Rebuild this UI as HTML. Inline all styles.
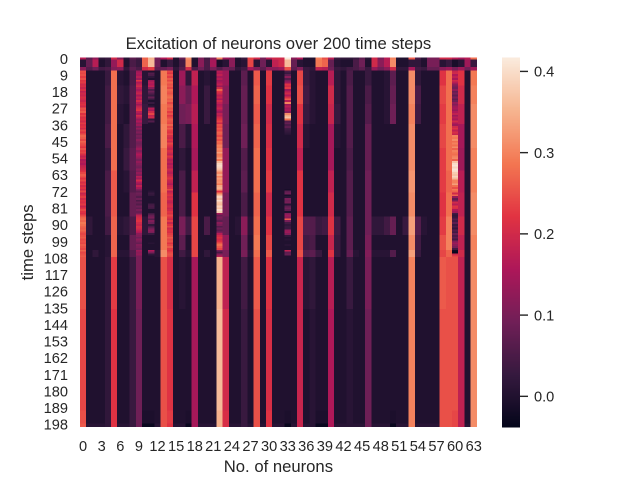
<!DOCTYPE html>
<html lang="en">
<head>
<meta charset="utf-8">
<title>Excitation of neurons over 200 time steps</title>
<style>
html,body{margin:0;padding:0;background:#fff}
#chart{display:block;width:640px;height:480px}
text{font-family:"Liberation Sans",Arial,sans-serif;fill:#262626}
</style>
</head>
<body>
<svg id="chart" xmlns="http://www.w3.org/2000/svg" width="640" height="480" viewBox="0 0 640 480">
  <rect x="0" y="0" width="640" height="480" fill="#ffffff"/>
  <text x="278.4" y="49" font-size="16.67" text-anchor="middle">Excitation of neurons over 200 time steps</text>
  <g id="cells" shape-rendering="crispEdges"></g>
  <g id="xticks"></g>
  <g id="yticks"></g>
  <text x="278.4" y="472" font-size="16.67" text-anchor="middle">No. of neurons</text>
  <text transform="translate(33 242.4) rotate(-90)" font-size="16.67" text-anchor="middle">time steps</text>
  <g id="colorbar" shape-rendering="crispEdges"></g>
  <g id="cbarticks"></g>
</svg>
<script>
// Number of neurons and time steps
const neuronCount = 64;
const timeStepCount = 200;
// Tick labels
const xTickLabels = [0,3,6,9,12,15,18,21,24,27,30,33,36,39,42,45,48,51,54,57,60,63];
const yTickLabels = [0,9,18,27,36,45,54,63,72,81,90,99,108,117,126,135,144,153,162,171,180,189,198];
const colorbarTicks = [0,0.1,0.2,0.3,0.4];
// Colour range
const valueMin = -0.038;
const valueMax = 0.417;
// First time step of each band of bandValues
const bandStartSteps = [0,1,5,7,15,25,36,49,61,73,86,96,104,108,136,191,198];
// Excitation of each neuron within each band
const bandValues = [
[.17,.07,.13,.02,.03,.2,.12,.01,.07,.05,.27,.35,.1,.16,.2,0,.08,.32,0,.1,.04,.12,.3,.14,.12,0,.03,.24,.2,.1,.17,.2,.2,.42,.12,.16,0,0,.3,.25,.17,.03,.02,.02,.03,.07,.01,.2,.1,.17,.3,0,0,.26,.05,.01,.1,.1,.2,.2,.17,.15,.17,.28],
[.01,.08,.17,0,.02,.13,.2,0,.05,.03,.27,.36,.09,0,.03,0,.04,.3,0,.12,.05,.15,-.01,.01,.12,0,.01,.24,.01,.09,.01,.18,.2,.36,.08,.01,0,0,.29,.27,.08,.01,0,0,.05,.09,0,.2,.12,.17,.31,0,0,.02,.02,0,.1,.1,.01,.03,-.01,.01,.14,.03],
[.12,.06,.09,.04,.05,.11,.12,.02,.07,.05,.2,.23,.07,.08,.1,.02,.06,.2,.05,.09,.05,.1,.06,.09,.08,.02,.04,.15,.11,.07,.12,.12,.14,.25,.07,.11,.03,.02,.18,.17,.09,.03,.02,.04,.05,.07,.03,.13,.09,.12,.2,.02,.02,.15,.04,.03,.08,.08,.12,.14,.1,.14,.09,.14],
[.25,0,0,0,.03,.28,.01,0,.05,.14,.01,.1,0,.29,.25,0,.14,.02,.18,0,.01,0,.17,.14,0,0,.07,0,.26,0,.23,0,0,.1,0,.24,.03,.01,0,0,.17,.02,0,.05,0,0,.03,0,0,.01,.07,0,0,.31,.02,0,0,0,.22,.28,.18,.22,0,.29],
[.2,0,0,0,.04,.28,.02,.01,.06,.17,.02,.05,0,.3,.26,0,.12,.08,.16,0,.03,0,.2,.12,0,0,.08,0,.27,0,.22,0,0,.15,0,.25,.04,.01,0,0,.2,.02,0,.06,0,0,.05,0,0,.01,.08,0,0,.31,.05,0,0,0,.24,.28,.1,.2,0,.3],
[.22,0,0,0,.04,.28,.01,0,.06,.13,.03,.15,0,.29,.26,0,.09,.1,.17,0,.03,0,.18,.1,0,0,.08,0,.26,0,.2,0,0,.2,0,.22,.03,.01,0,0,.19,.03,0,.06,0,0,.06,0,0,.01,.09,0,0,.3,.04,0,0,0,.23,.28,.15,.18,0,.31],
[.23,0,0,0,.05,.28,0,.02,.06,.12,0,0,0,.3,.22,0,.05,.01,.16,0,0,0,.27,.09,0,0,.09,0,.27,0,.21,0,0,.02,0,.2,.01,0,0,0,.15,.01,0,.06,0,0,.08,0,0,0,0,0,0,.31,0,0,0,0,.24,.28,.25,.15,0,.31],
[.19,0,0,0,.03,.28,0,.03,.07,.12,0,0,0,.28,.19,0,.02,0,.15,0,0,0,.33,.13,0,0,.06,0,.28,0,.22,0,0,0,0,.18,0,0,0,0,.15,0,0,.05,0,0,.08,0,0,0,0,0,0,.31,0,0,0,0,.23,.28,.33,.14,0,.3],
[.22,0,0,0,.05,.26,0,.01,.06,.14,0,0,0,.28,.19,0,.05,0,.18,0,0,0,.32,.13,0,0,.07,0,.28,0,.23,0,0,0,0,.22,0,0,0,0,.18,0,0,.06,0,0,.09,0,0,0,0,0,0,.32,0,0,0,0,.23,.27,.3,.17,0,.3],
[.22,0,0,0,.05,.26,0,0,.08,.08,0,0,0,.27,.2,0,.05,0,.22,0,0,0,.38,.1,0,0,.05,0,.27,0,.2,0,0,.05,0,.22,0,0,0,0,.2,0,0,.06,0,0,.09,0,0,0,0,0,0,.31,0,0,0,0,.22,.28,.1,.18,0,.31],
[.27,.02,0,0,.04,.27,.01,.02,.05,.19,.02,.07,0,.29,.22,0,.1,.04,.24,0,.05,0,.09,.08,0,.01,.12,.01,.28,0,.22,0,0,.1,0,.24,.06,.06,.03,.04,.22,.04,0,.07,0,0,.09,.02,.02,.04,.08,0,.03,.33,.06,.01,0,0,.23,.3,.05,.2,0,.31],
[.25,0,0,0,.01,.27,0,0,.08,.11,0,0,0,.29,.24,0,.07,0,.24,0,0,0,.24,.13,0,0,.09,0,.29,0,.24,0,0,.01,0,.24,.04,.05,0,0,.19,.03,0,.07,0,0,.1,0,0,0,0,0,0,.31,.04,0,0,0,.25,.3,.09,.18,0,.3],
[.25,0,.02,0,.01,.27,.01,.01,.06,.12,0,.08,.01,.31,.24,0,.04,.01,.24,0,.02,0,.08,.1,0,0,.1,.01,.28,0,.26,0,0,.08,0,.25,.06,.07,.03,0,.22,.03,0,.08,.01,0,.11,.01,.01,.01,.06,0,0,.33,.03,0,0,0,.24,.27,.1,.2,0,.31],
[.25,0,0,0,.02,.23,0,0,.03,.1,0,0,0,.25,.21,0,.01,0,.15,0,0,0,.35,.18,0,0,.04,0,.26,0,.22,0,0,0,0,.19,.01,.02,0,0,.17,0,0,.03,0,0,.1,0,0,0,0,0,0,.3,0,0,0,0,.26,.25,.25,.18,0,.31],
[.24,0,0,0,.02,.22,0,0,.03,.09,0,0,0,.25,.22,0,0,0,.15,0,0,0,.36,.2,0,0,.03,0,.25,0,.21,0,0,0,0,.19,0,.01,0,0,.16,0,0,.01,0,0,.09,0,0,0,0,0,0,.3,0,0,0,0,.25,.25,.25,.18,0,.31],
[.25,0,0,0,.02,.22,0,0,.03,.09,-.005,-.005,0,.25,.23,0,0,-.005,.15,0,0,0,.35,.21,0,0,.03,0,.25,0,.22,0,0,-.005,0,.19,0,.01,-.005,-.005,.16,0,0,.01,0,0,.09,0,0,0,-.005,0,0,.3,0,0,0,0,.25,.25,.24,.18,0,.31],
[.26,.01,.01,.01,.02,.22,.01,.01,.03,.09,-.03,-.03,.01,.25,.22,.01,.01,-.03,.15,.01,.01,.01,.35,.21,.01,.01,.03,.01,.25,.01,.22,.01,.01,-.03,.01,.19,.01,.01,-.03,-.03,.16,.01,.01,.01,.01,.01,.09,.01,.01,.01,-.03,.01,.01,.3,.01,.01,.01,.01,.25,.25,.24,.18,.01,.31]
];
// First time step covered by the per-step traces below
const traceStartStep = 7;
// Per-step excitation of the most variable neurons (steps 7..107)
const neuron0Trace = [.25,.24,.25,.23,.25,.22,.23,.2,.21,.19,.21,.18,.2,.19,.21,.2,.19,.21,.22,.2,.25,.24,.26,.22,.24,.21,.22,.2,.23,.21,.22,.2,.24,.22,.25,.27,.26,.24,.27,.25,.24,.22,.25,.23,.24,.21,.18,.2,.16,.17,.16,.18,.19,.2,.22,.24,.26,.25,.22,.24,.21,.23,.2,.22,.2,.24,.19,.21,.23,.2,.22,.21,.23,.19,.22,.24,.22,.21,.24,.27,.28,.27,.29,.28,.27,.26,.27,.25,.24,.25,.26,.24,.25,.24,.26,.25,.24,.27,.24,.25,.26];
const neuron9Trace = [.14,.16,.15,.17,.14,.22,.16,.18,.2,.17,.15,.17,.19,.15,.18,.16,.2,.17,.14,.18,.2,.22,.17,.15,.2,.17,.13,.16,.12,.14,.1,.13,.09,.11,.08,.1,.09,.12,.1,.09,.1,.12,.14,.11,.13,.16,.14,.12,.1,.13,.11,.1,.09,.12,.1,.13,.11,.17,.14,.2,.16,.13,.18,.15,.11,.07,.09,.08,.06,.09,.05,.08,.06,.09,.07,.1,.08,.1,.18,.2,.21,.22,.2,.19,.21,.2,.18,.16,.12,.11,.09,.12,.1,.08,.11,.1,.09,.14,.12,.13,.1];
const neuron11Trace = [0,.06,.05,.02,0,.14,.17,.16,.18,.12,.06,.09,.06,.03,.08,.03,0,.03,0,.02,.17,.15,.2,.24,.18,.2,.02,.06,0,0,0,0,0,0,0,0,0,0,0,0,0,0,0,0,0,0,0,0,0,0,0,0,0,0,0,0,0,0,0,0,0,0,0,0,0,.01,.03,.02,0,0,0,0,.04,.05,.04,0,0,.04,.08,.1,.06,.11,.09,.02,.05,.09,.12,.1,.03,0,0,0,0,.01,0,0,0,.16,.1,.02,0];
const neuron14Trace = [.24,.22,.25,.23,.26,.24,.27,.25,.26,.24,.27,.26,.25,.27,.28,.26,.27,.24,.26,.27,.25,.26,.23,.25,.22,.24,.26,.25,.24,.27,.24,.26,.23,.22,.24,.21,.2,.22,.2,.24,.22,.2,.19,.21,.2,.18,.22,.19,.17,.18,.16,.18,.17,.2,.18,.17,.19,.2,.22,.19,.18,.16,.19,.2,.24,.18,.2,.22,.2,.21,.19,.18,.2,.21,.19,.2,.22,.21,.24,.22,.2,.23,.19,.22,.24,.2,.22,.21,.23,.24,.26,.24,.25,.22,.24,.26,.23,.22,.24,.25,.24];
const neuron22Trace = [.17,.16,.18,.15,.17,.14,.16,.18,.14,.2,.27,.22,.2,.17,.19,.16,.2,.18,.16,.17,.19,.16,.14,.18,.17,.2,.22,.24,.2,.25,.24,.26,.24,.27,.26,.24,.27,.25,.28,.27,.3,.29,.31,.3,.33,.29,.3,.33,.29,.36,.39,.4,.39,.37,.33,.31,.34,.3,.33,.31,.32,.29,.34,.35,.33,.22,.3,.36,.39,.37,.4,.37,.36,.39,.37,.4,.38,.15,.08,.11,.09,.07,.12,.1,.06,.09,.07,.11,.17,.2,.22,.2,.22,.26,.28,.26,.24,.1,.05,.12,.17];
const neuron33Trace = [.05,.03,.07,.12,.06,.1,.14,.22,.2,.23,.14,.17,.2,.16,.21,.26,.17,.3,.14,.17,.14,.16,.12,.31,.34,.37,.28,.06,.08,.05,.07,.04,.03,.02,.01,0,0,0,0,0,0,0,0,0,0,0,0,0,0,0,0,0,0,0,0,0,0,0,0,0,0,0,0,0,-.01,.07,.09,-.01,.01,.1,.09,.1,.01,.07,.09,.07,0,.11,.14,.12,.26,.1,.04,.02,.03,.03,.13,.14,.11,.02,0,.01,0,0,.01,0,0,.18,.07,.08,0];
const neuron60Trace = [.19,.2,.16,.18,.15,.2,.17,.12,.1,.09,.12,.08,.1,.07,.1,.07,.09,.13,.11,.14,.15,.13,.16,.18,.14,.17,.15,.2,.16,.14,.2,.22,.18,.21,.19,.3,.29,.31,.28,.3,.28,.31,.27,.3,.29,.28,.3,.31,.27,.37,.4,.41,.39,.41,.4,.38,.37,.39,.36,.3,.3,.33,.28,.25,.29,.27,.2,.27,.13,.07,.1,.2,.17,.22,.21,.16,.14,.04,.02,.03,.06,.04,.07,.03,.05,.02,.06,.04,.08,.05,.07,.04,.11,.14,.12,.1,.04,-.02,-.03,.2,.24];

const SVGNS = 'http://www.w3.org/2000/svg';
const plot = {left:80, right:476.8, top:57.6, bottom:427.2};
const bar = {left:502, right:520};
const rocketStops = ['#03051a','#35193e','#701f57','#ad1759','#e13342','#f37651','#f6b48f','#faebdd'];

function xScale(neuron){ return plot.left + neuron * (plot.right - plot.left) / neuronCount; }
function yScale(step){ return plot.top + step * (plot.bottom - plot.top) / timeStepCount; }
function barScale(value){ return plot.bottom - (value - valueMin) / (valueMax - valueMin) * (plot.bottom - plot.top); }
function hexChannel(hex, i){ return parseInt(hex.substr(1 + i * 2, 2), 16); }
function colorScale(value){
  const t = Math.max(0, Math.min(1, (value - valueMin) / (valueMax - valueMin))) * (rocketStops.length - 1);
  const i = Math.min(Math.floor(t), rocketStops.length - 2);
  const f = t - i;
  const c = [0,1,2].map(k => Math.round(hexChannel(rocketStops[i], k) * (1 - f) + hexChannel(rocketStops[i + 1], k) * f));
  return 'rgb(' + c.join(',') + ')';
}
function valueAt(step, neuron){
  const traceIndex = step - traceStartStep;
  if (traceIndex >= 0 && traceIndex < neuron22Trace.length) {
    if (neuron === 0) return neuron0Trace[traceIndex];
    if (neuron === 9) return neuron9Trace[traceIndex];
    if (neuron === 11) return neuron11Trace[traceIndex];
    if (neuron === 14) return neuron14Trace[traceIndex];
    if (neuron === 22) return neuron22Trace[traceIndex];
    if (neuron === 33) return neuron33Trace[traceIndex];
    if (neuron === 60) return neuron60Trace[traceIndex];
  }
  let band = 0;
  for (let b = 0; b < bandStartSteps.length; b++) { if (step >= bandStartSteps[b]) band = b; }
  return bandValues[band][neuron];
}

const cells = document.getElementById('cells');
for (let step = 0; step < timeStepCount; step++) {
  for (let neuron = 0; neuron < neuronCount; neuron++) {
    const cell = document.createElementNS(SVGNS, 'rect');
    
    
    cell.setAttribute('x', xScale(neuron));
    cell.setAttribute('y', yScale(step));
    cell.setAttribute('width', xScale(neuron + 1) - xScale(neuron));
    cell.setAttribute('height', yScale(step + 1) - yScale(step));
    cell.setAttribute('fill', colorScale(valueAt(step, neuron)));
    cells.appendChild(cell);
  }
}

const xticks = document.getElementById('xticks');
xTickLabels.forEach(label => {
  const t = document.createElementNS(SVGNS, 'text');
  
  
  t.setAttribute('x', xScale(label + 0.5));
  t.setAttribute('y', 451);
  t.setAttribute('font-size', '14.6');
  t.setAttribute('text-anchor', 'middle');
  t.textContent = label;
  xticks.appendChild(t);
});

const yticks = document.getElementById('yticks');
yTickLabels.forEach(label => {
  const t = document.createElementNS(SVGNS, 'text');
  
  
  t.setAttribute('x', 68);
  t.setAttribute('y', yScale(label + 0.5) + 5.3);
  t.setAttribute('font-size', '14.6');
  t.setAttribute('text-anchor', 'end');
  t.textContent = label;
  yticks.appendChild(t);
});

const colorbar = document.getElementById('colorbar');
const barSteps = 256;
for (let i = 0; i < barSteps; i++) {
  const value = valueMin + (i + 0.5) / barSteps * (valueMax - valueMin);
  const seg = document.createElementNS(SVGNS, 'rect');
  
  
  const yTop = barScale(valueMin + (i + 1) / barSteps * (valueMax - valueMin));
  const yBottom = barScale(valueMin + i / barSteps * (valueMax - valueMin));
  seg.setAttribute('x', bar.left);
  seg.setAttribute('y', yTop);
  seg.setAttribute('width', bar.right - bar.left);
  seg.setAttribute('height', yBottom - yTop + 0.5);
  seg.setAttribute('fill', colorScale(value));
  colorbar.appendChild(seg);
}

const cbarticks = document.getElementById('cbarticks');
colorbarTicks.forEach(value => {
  const mark = document.createElementNS(SVGNS, 'line');
  
  
  mark.setAttribute('x1', bar.right);
  mark.setAttribute('x2', bar.right + 8);
  mark.setAttribute('y1', barScale(value));
  mark.setAttribute('y2', barScale(value));
  mark.setAttribute('stroke', '#262626');
  mark.setAttribute('stroke-width', '1.4');
  cbarticks.appendChild(mark);
  const t = document.createElementNS(SVGNS, 'text');
  
  
  t.setAttribute('x', 534);
  t.setAttribute('y', barScale(value) + 5.3);
  t.setAttribute('font-size', '14.6');
  t.textContent = value.toFixed(1);
  cbarticks.appendChild(t);
});
</script>
</body>
</html>
